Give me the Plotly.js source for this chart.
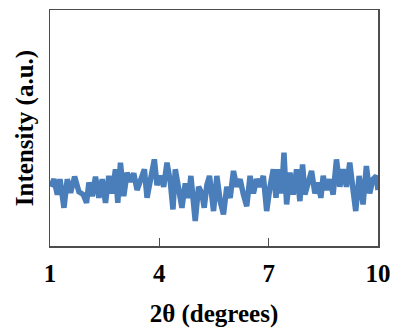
<!DOCTYPE html>
<html>
<head>
<meta charset="utf-8">
<script src="https://cdn.plot.ly/plotly-3.0.1.min.js"></script>
<style>html,body{margin:0;padding:0;background:#fff;}#chart{width:398px;height:328px;}</style>
</head>
<body>
<div id="chart"></div>
<script>
// 2θ positions (degrees)
var twoTheta = [1.018,1.109,1.201,1.274,1.383,1.474,1.565,1.675,1.793,1.912,2.003,2.067,2.158,2.249,2.340,2.432,2.523,2.614,2.705,2.796,2.860,2.933,3.024,3.116,3.207,3.298,3.389,3.480,3.590,3.663,3.754,3.863,3.936,4.028,4.119,4.210,4.301,4.374,4.438,4.529,4.620,4.711,4.803,4.866,4.985,5.076,5.167,5.231,5.304,5.377,5.487,5.578,5.669,5.760,5.851,5.943,6.034,6.125,6.216,6.307,6.398,6.490,6.581,6.672,6.763,6.854,6.945,7.037,7.128,7.201,7.265,7.356,7.420,7.493,7.584,7.675,7.766,7.857,7.930,7.994,8.085,8.177,8.268,8.359,8.432,8.496,8.587,8.678,8.769,8.860,8.952,9.043,9.134,9.225,9.316,9.389,9.481,9.590,9.681,9.772,9.863,9.955,10.0];
// Intensity (a.u.)
var intensity = [25.1,28.3,21.8,28.3,16.2,28.3,22.5,29.4,23.0,21.8,18.3,26.9,21.1,29.4,20.4,28.3,18.3,29.7,22.3,32.5,18.3,35.3,21.1,31.1,27.2,30.8,23.7,28.3,32.5,20.4,26.9,36.7,25.8,29.7,25.1,35.3,27.2,15.5,32.5,24.4,16.2,26.5,20.4,29.7,10.6,25.1,22.3,16.2,25.8,29.7,14.8,29.7,19.0,13.4,25.1,20.4,31.8,25.1,28.3,21.8,16.9,29.7,22.3,28.3,25.1,29.7,14.8,25.1,32.5,20.4,32.5,22.3,39.6,17.6,31.1,21.8,32.5,19.0,34.6,21.8,26.5,31.8,22.3,26.9,20.4,29.7,23.7,28.3,21.8,36.7,25.1,32.5,25.1,35.3,23.7,14.8,29.7,17.6,33.9,22.3,28.3,29.7,23.7];
var xTicks = [1,4,7,10];

var serif = "'Liberation Serif','Times New Roman',serif";
var axisColor = '#4d4d4d';

Plotly.newPlot('chart', [{
  x: twoTheta,
  y: intensity,
  type: 'scatter',
  mode: 'lines',
  line: {color: '#4A7EBB', width: 5.5, shape: 'linear'},
  hoverinfo: 'skip'
}], {
  width: 398, height: 328,
  margin: {l: 50, r: 20, t: 10, b: 82},
  paper_bgcolor: '#fff', plot_bgcolor: '#fff',
  showlegend: false,
  xaxis: {
    range: [1, 10],
    tickvals: xTicks,
    ticktext: xTicks.map(String),
    ticks: 'inside', ticklen: 8, tickwidth: 1.5, tickcolor: axisColor,
    showline: true, linecolor: axisColor, linewidth: 1.5, mirror: true,
    showgrid: false, zeroline: false,
    ticklabelstandoff: 4,
    tickfont: {family: serif, size: 25, color: '#000', weight: 'bold'},
    title: {text: '<b>2θ (degrees)</b>', font: {family: serif, size: 25, color: '#000'}, standoff: 22}
  },
  yaxis: {
    range: [0, 100],
    showticklabels: false, ticks: '',
    showline: true, linecolor: axisColor, linewidth: 1.5, mirror: true,
    showgrid: false, zeroline: false,
    title: {text: '<b>Intensity (a.u.)</b>', font: {family: serif, size: 25, color: '#000'}, standoff: 8}
  }
}, {displayModeBar: false, staticPlot: true});
</script>
</body>
</html>
